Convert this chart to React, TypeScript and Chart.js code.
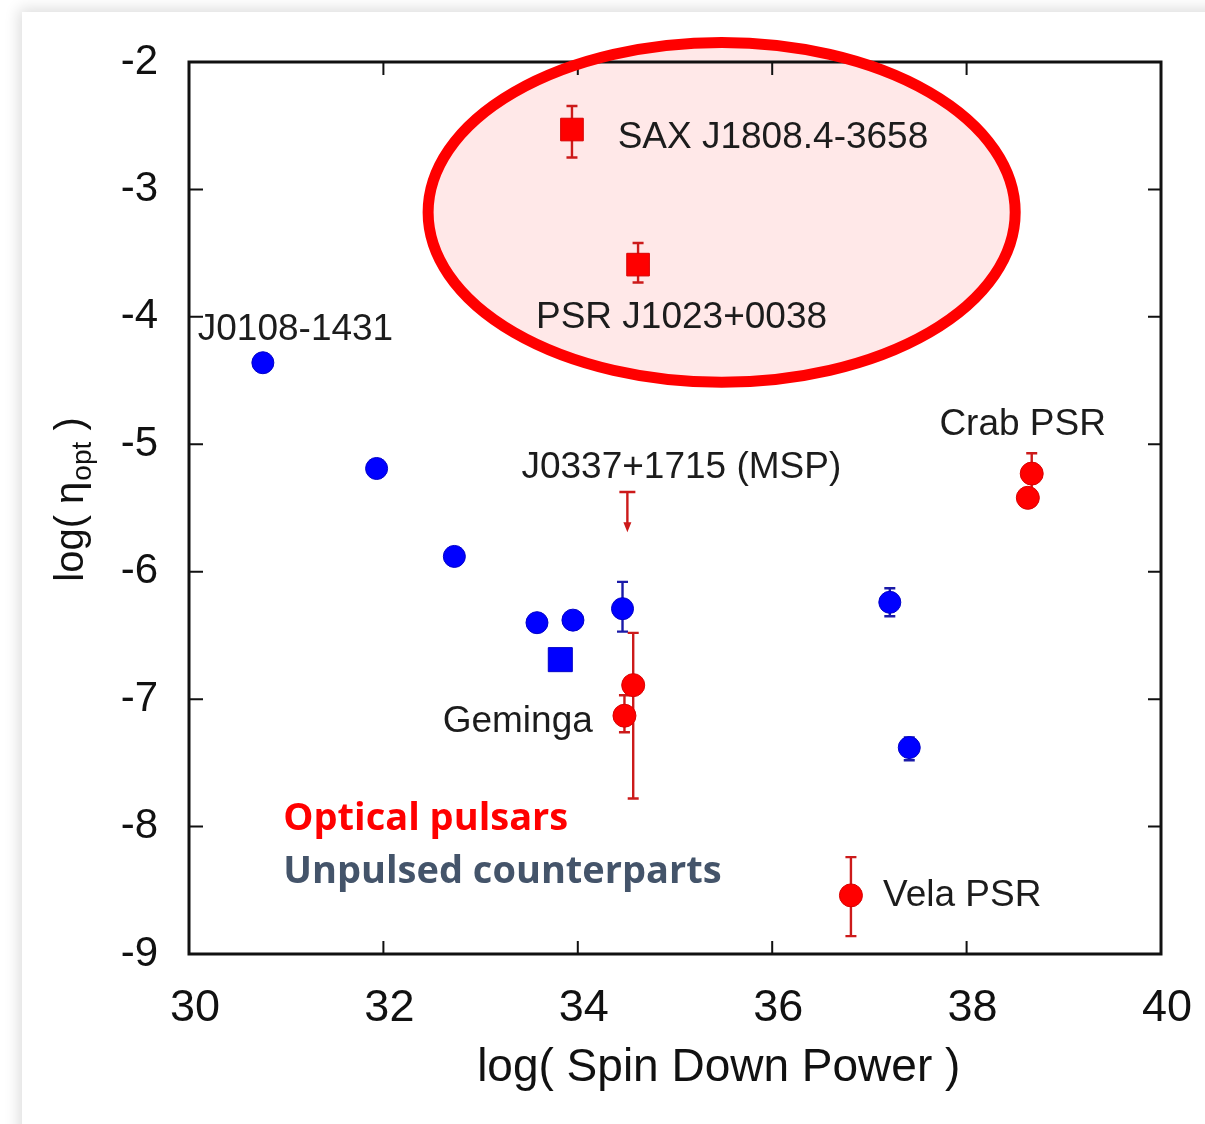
import React, { useEffect, useRef } from "react";
import { Chart, registerables } from "chart.js";

Chart.register(...registerables);

// Axis ticks
const xTickValues = [30, 32, 34, 36, 38, 40];
const yTickValues = [-2, -3, -4, -5, -6, -7, -8, -9];

// Unpulsed counterparts (blue circles); null = no error bar
const unpulsedX = [30.76, 31.93, 32.73, 33.58, 33.95, 34.46, 37.21, 37.41];
const unpulsedY = [-4.36, -5.19, -5.88, -6.4, -6.38, -6.29, -6.24, -7.38];
const unpulsedHi = [null, null, null, null, null, -6.08, -6.13, -7.3];
const unpulsedLo = [null, null, null, null, null, -6.47, -6.35, -7.48];

// Unpulsed counterpart shown as a square
const unpulsedSqX = [33.82];
const unpulsedSqY = [-6.69];

// Optical pulsars (red circles): Geminga (2), Crab (2), Vela
const opticalX = [34.57, 34.48, 38.67, 38.63, 36.81];
const opticalY = [-6.89, -7.13, -5.23, -5.42, -8.54];
const opticalHi = [-6.48, -6.97, -5.07, null, -8.24];
const opticalLo = [-7.78, -7.26, -5.39, null, -8.86];

// Transitional binaries (red squares): SAX J1808.4-3658, PSR J1023+0038
const binaryX = [33.94, 34.62];
const binaryY = [-2.53, -3.59];
const binaryHi = [-2.345, -3.42];
const binaryLo = [-2.75, -3.73];

// Upper limit for J0337+1715
const limitX = [34.51];
const limitY = [-5.375];
const limitTo = [-5.69];

// Source names and where they sit (data units, left/baseline anchored)
const sourceNames = [
  "J0108-1431",
  "SAX J1808.4-3658",
  "PSR J1023+0038",
  "Crab PSR",
  "J0337+1715 (MSP)",
  "Geminga",
  "Vela PSR",
];
const sourceNameX = [30.09, 34.41, 33.57, 37.72, 33.42, 32.61, 37.14];
const sourceNameY = [-4.18, -2.675, -4.09, -4.93, -5.265, -7.26, -8.62];

const HELV = '"Liberation Sans", Arial, Helvetica, sans-serif';
const RED = "#ff0000";
const BLUE = "#0000ff";
const RED_ERR = "#cc1a1a";
const BLUE_ERR = "#1a1aa8";

function pts(xs: number[], ys: number[]) {
  return xs.map((x, i) => ({ x, y: ys[i] }));
}

function errorBar(
  ctx: CanvasRenderingContext2D,
  px: number,
  pHi: number,
  pLo: number,
  cap: number,
  color: string
) {
  ctx.save();
  ctx.strokeStyle = color;
  ctx.lineWidth = 2.4;
  ctx.beginPath();
  ctx.moveTo(px, pHi);
  ctx.lineTo(px, pLo);
  ctx.moveTo(px - cap / 2, pHi);
  ctx.lineTo(px + cap / 2, pHi);
  ctx.moveTo(px - cap / 2, pLo);
  ctx.lineTo(px + cap / 2, pLo);
  ctx.stroke();
  ctx.restore();
}

function ellipseGeom(chart: any) {
  const xs = chart.scales.x;
  const ys = chart.scales.y;
  const cx = xs.getPixelForValue(35.48);
  const cy = ys.getPixelForValue(-3.18);
  const rx = xs.getPixelForValue(35.48 + 3.02) - cx;
  const ry = ys.getPixelForValue(-3.18 - 1.334) - cy;
  return { cx, cy, rx, ry };
}

const decorations = {
  id: "decorations",
  beforeDatasetsDraw(chart: any) {
    const { ctx, chartArea: a } = chart;
    const xs = chart.scales.x;
    const ys = chart.scales.y;

    // highlight ellipse fill
    const e = ellipseGeom(chart);
    ctx.save();
    ctx.fillStyle = "rgba(255,0,0,0.09)";
    ctx.beginPath();
    ctx.ellipse(e.cx, e.cy, e.rx, e.ry, 0, 0, Math.PI * 2);
    ctx.fill();
    ctx.restore();

    // frame
    ctx.save();
    ctx.strokeStyle = "#111";
    ctx.lineWidth = 3;
    ctx.strokeRect(a.left, a.top, a.right - a.left, a.bottom - a.top);

    // inward tick marks on all four sides
    ctx.lineWidth = 2;
    ctx.beginPath();
    xTickValues.forEach((v) => {
      const p = xs.getPixelForValue(v);
      ctx.moveTo(p, a.bottom);
      ctx.lineTo(p, a.bottom - 13);
      ctx.moveTo(p, a.top);
      ctx.lineTo(p, a.top + 13);
    });
    yTickValues.forEach((v) => {
      const p = ys.getPixelForValue(v);
      ctx.moveTo(a.left, p);
      ctx.lineTo(a.left + 14, p);
      ctx.moveTo(a.right, p);
      ctx.lineTo(a.right - 13, p);
    });
    ctx.stroke();
    ctx.restore();

    // error bars
    unpulsedX.forEach((x, i) => {
      if (unpulsedHi[i] == null) return;
      errorBar(ctx, xs.getPixelForValue(x), ys.getPixelForValue(unpulsedHi[i]), ys.getPixelForValue(unpulsedLo[i]), 11, BLUE_ERR);
    });
    opticalX.forEach((x, i) => {
      if (opticalHi[i] == null) return;
      errorBar(ctx, xs.getPixelForValue(x), ys.getPixelForValue(opticalHi[i]), ys.getPixelForValue(opticalLo[i]), 11, RED_ERR);
    });
    binaryX.forEach((x, i) => {
      errorBar(ctx, xs.getPixelForValue(x), ys.getPixelForValue(binaryHi[i]), ys.getPixelForValue(binaryLo[i]), 11, RED_ERR);
    });

    // upper limit arrow
    limitX.forEach((x, i) => {
      const px = xs.getPixelForValue(x);
      const p0 = ys.getPixelForValue(limitY[i]);
      const p1 = ys.getPixelForValue(limitTo[i]);
      ctx.save();
      ctx.strokeStyle = RED_ERR;
      ctx.fillStyle = RED_ERR;
      ctx.lineWidth = 2.4;
      ctx.beginPath();
      ctx.moveTo(px - 8, p0);
      ctx.lineTo(px + 8, p0);
      ctx.moveTo(px, p0);
      ctx.lineTo(px, p1 - 8);
      ctx.stroke();
      ctx.beginPath();
      ctx.moveTo(px - 4, p1 - 10);
      ctx.lineTo(px + 4, p1 - 10);
      ctx.lineTo(px, p1);
      ctx.closePath();
      ctx.fill();
      ctx.restore();
    });
  },
  afterDatasetsDraw(chart: any) {
    const { ctx, chartArea: a } = chart;
    const xs = chart.scales.x;
    const ys = chart.scales.y;

    // source names
    ctx.save();
    ctx.font = `37px ${HELV}`;
    ctx.fillStyle = "#1c1c1c";
    ctx.textAlign = "left";
    ctx.textBaseline = "alphabetic";
    sourceNames.forEach((t, i) => {
      ctx.fillText(t, xs.getPixelForValue(sourceNameX[i]), ys.getPixelForValue(sourceNameY[i]));
    });
    ctx.restore();

    // ellipse outline
    const e = ellipseGeom(chart);
    ctx.save();
    ctx.strokeStyle = RED;
    ctx.lineWidth = 11;
    ctx.beginPath();
    ctx.ellipse(e.cx, e.cy, e.rx, e.ry, 0, 0, Math.PI * 2);
    ctx.stroke();
    ctx.restore();

    // colour key
    ctx.save();
    ctx.font = `bold 38px "Open Sans", "Noto Sans", sans-serif`;
    ctx.textAlign = "left";
    ctx.textBaseline = "alphabetic";
    ctx.fillStyle = RED;
    ctx.fillText("Optical pulsars", xs.getPixelForValue(30.97), ys.getPixelForValue(-8.03));
    ctx.fillStyle = "#44546a";
    ctx.fillText("Unpulsed counterparts", xs.getPixelForValue(30.97), ys.getPixelForValue(-8.44));
    ctx.restore();

    // x axis title
    ctx.save();
    ctx.font = `46px ${HELV}`;
    ctx.fillStyle = "#111";
    ctx.textAlign = "center";
    ctx.textBaseline = "alphabetic";
    ctx.fillText("log( Spin Down Power )", xs.getPixelForValue(35.45), a.bottom + 127);
    ctx.restore();

    // y axis title with subscript
    ctx.save();
    ctx.fillStyle = "#111";
    ctx.textBaseline = "alphabetic";
    ctx.textAlign = "left";
    const big = `40px ${HELV}`;
    const small = `28px ${HELV}`;
    const partA = "log( \u03b7";
    const partB = "opt";
    const partC = " )";
    ctx.font = big;
    const wA = ctx.measureText(partA).width;
    const wC = ctx.measureText(partC).width;
    ctx.font = small;
    const wB = ctx.measureText(partB).width;
    const total = wA + wB + wC;
    ctx.translate(a.left - 106, (a.top + a.bottom) / 2 - 8);
    ctx.rotate(-Math.PI / 2);
    let x0 = -total / 2;
    ctx.font = big;
    ctx.fillText(partA, x0, 0);
    x0 += wA + 1;
    ctx.font = small;
    ctx.fillText(partB, x0, 8);
    x0 += wB;
    ctx.font = big;
    ctx.fillText(partC, x0, 0);
    ctx.restore();
  },
};

export default function App() {
  const ref = useRef<HTMLCanvasElement | null>(null);

  useEffect(() => {
    if (!ref.current) return;
    const chart = new Chart(ref.current, {
      type: "scatter",
      data: {
        datasets: [
          {
            label: "Unpulsed counterparts",
            data: pts(unpulsedX, unpulsedY),
            pointStyle: "circle",
            pointRadius: 11,
            backgroundColor: BLUE,
            borderColor: "#0000c8",
            borderWidth: 1,
          },
          {
            label: "Unpulsed counterpart (square)",
            data: pts(unpulsedSqX, unpulsedSqY),
            pointStyle: "rect",
            pointRadius: 17,
            backgroundColor: BLUE,
            borderColor: "#0000c8",
            borderWidth: 1,
          },
          {
            label: "Optical pulsars",
            data: pts(opticalX, opticalY),
            pointStyle: "circle",
            pointRadius: 11.5,
            backgroundColor: RED,
            borderColor: "#d80000",
            borderWidth: 1,
          },
          {
            label: "Transitional binaries",
            data: pts(binaryX, binaryY),
            pointStyle: "rect",
            pointRadius: 16,
            backgroundColor: RED,
            borderColor: "#d80000",
            borderWidth: 1,
          },
        ],
      },
      options: {
        responsive: false,
        animation: false,
        events: [],
        layout: { padding: { left: 0, top: 50, right: 44, bottom: 0 } },
        plugins: {
          legend: { display: false },
          tooltip: { enabled: false },
          title: { display: false },
        },
        scales: {
          x: {
            type: "linear",
            position: "bottom",
            min: 30,
            max: 40,
            afterBuildTicks: (s: any) => {
              s.ticks = xTickValues.map((v) => ({ value: v }));
            },
            ticks: {
              font: { family: HELV, size: 45 },
              color: "#111",
              padding: 28,
              labelOffset: 6,
              maxRotation: 0,
            },
            grid: { display: false, drawTicks: false },
            border: { display: false },
            afterFit: (s: any) => {
              s.height = 170;
              s.paddingLeft = 0;
              s.paddingRight = 0;
            },
          },
          y: {
            type: "linear",
            position: "left",
            min: -9,
            max: -2,
            afterBuildTicks: (s: any) => {
              s.ticks = yTickValues.map((v) => ({ value: v }));
            },
            ticks: {
              font: { family: HELV, size: 42 },
              color: "#111",
              padding: 31,
            },
            grid: { display: false, drawTicks: false },
            border: { display: false },
            afterFit: (s: any) => {
              s.width = 167;
              s.paddingTop = 0;
              s.paddingBottom = 0;
            },
          },
        },
      },
      plugins: [decorations],
    });
    return () => chart.destroy();
  }, []);

  return (
    <div
      style={{
        position: "fixed",
        left: 0,
        top: 0,
        width: 1205,
        height: 1124,
        background: "#fff",
        overflow: "hidden",
      }}
    >
      <div
        style={{
          position: "absolute",
          left: 22,
          top: 12,
          width: 1203,
          height: 1132,
          background: "#fff",
          boxShadow: "0 0 14px 3px rgba(0,0,0,0.14)",
        }}
      >
        <canvas ref={ref} width={1183} height={1112} style={{ display: "block" }} />
      </div>
    </div>
  );
}
